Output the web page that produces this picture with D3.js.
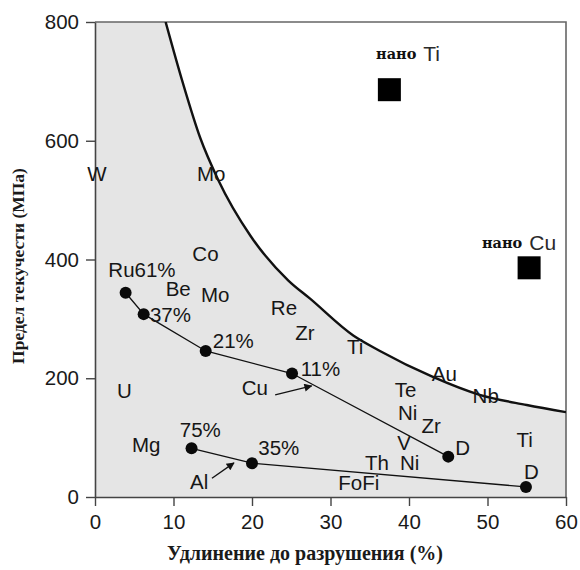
<!DOCTYPE html>
<html>
<head>
<meta charset="utf-8">
<script src="https://cdn.jsdelivr.net/npm/d3@7"></script>
<style>
  html, body { margin: 0; padding: 0; background: #fff; }
  svg { display: block; }
</style>
</head>
<body>
<div id="chart"></div>
<script>
// elongation to failure (%) vs yield strength (MPa)
const xTicks = [0, 10, 20, 30, 40, 50, 60];
const yTicks = [0, 200, 400, 600, 800];

// boundary of the conventional-metals region
const boundary = [
  [9.0, 800], [11.2, 697], [13.4, 605], [15.7, 534], [19.8, 440], [24.6, 365],
  [27.4, 334], [32.9, 272], [36.3, 246], [42.9, 203], [49.0, 172], [55.0, 155], [60.0, 143]
];

// two chains of points (with the connecting line)
const seriesA = [[3.9, 344], [6.2, 308], [14.1, 246], [25.1, 208], [45.0, 68]];
const seriesB = [[12.3, 82], [20.0, 57], [54.9, 17]];

// nanocrystalline samples
const nanoPoints = [
  { metal: 'Ti', x: 37.5, y: 686, lx: 35.8, ly: 738 },
  { metal: 'Cu', x: 55.3, y: 386, lx: 49.3, ly: 420 }
];

// element / percent labels: text, x (start), y (baseline)
const labels = [
  ['W', -1.0, 533], ['Mo', 13.0, 533], ['Co', 12.4, 398], ['Ru61%', 1.7, 370],
  ['Be', 9.0, 338], ['Mo', 13.5, 329], ['37%', 7.0, 295], ['Re', 22.4, 306],
  ['Zr', 25.5, 264], ['21%', 15.0, 251], ['Ti', 32.1, 241], ['11%', 26.2, 204],
  ['Cu', 18.7, 172], ['U', 2.8, 167], ['Te', 38.2, 169], ['Au', 42.9, 196],
  ['Nb', 48.1, 158], ['Ni', 38.6, 130], ['Zr', 41.6, 108], ['V', 38.5, 79],
  ['D', 45.9, 71], ['Ti', 53.7, 84], ['Ni', 38.85, 45], ['Th', 34.4, 45],
  ['D', 54.65, 30], ['FoFi', 31.0, 12], ['Mg', 4.7, 76], ['75%', 10.8, 101],
  ['35%', 20.8, 71], ['Al', 12.1, 13.5]
];

// arrows: from -> to
const arrows = [
  [[22.95, 172], [27.6, 187]],
  [[14.9, 31.5], [17.7, 57.5]]
];

const W = 580, H = 570;
const margin = { top: 22, right: 14, bottom: 73, left: 95 };
const width = W - margin.left - margin.right;
const height = H - margin.top - margin.bottom;

const svg = d3.select('#chart').append('svg')
  .attr('width', W)
  .attr('height', H);

const defs = svg.append('defs');
defs.append('clipPath').attr('id', 'plot-clip')
  .append('rect').attr('width', width).attr('height', height);
defs.append('marker')
  .attr('id', 'arrowhead')
  .attr('viewBox', '0 0 10 10')
  .attr('refX', 9).attr('refY', 5)
  .attr('markerWidth', 11).attr('markerHeight', 8)
  .attr('markerUnits', 'userSpaceOnUse')
  .attr('orient', 'auto')
  .append('path').attr('d', 'M0,0 L10,5 L0,10 Z').attr('fill', '#111');

const g = svg.append('g').attr('transform', `translate(${margin.left},${margin.top})`);

const x = d3.scaleLinear().domain([0, 60]).range([0, width]);
const y = d3.scaleLinear().domain([0, 800]).range([height, 0]);

// shaded region under the boundary
const curveLine = d3.line().x(d => x(d[0])).y(d => y(d[1])).curve(d3.curveMonotoneX);
const boundaryPath = curveLine(boundary);
g.append('path')
  .attr('clip-path', 'url(#plot-clip)')
  .attr('d', `M${x(0)},${y(800)}L${boundaryPath.slice(1)}L${x(60)},${y(0)}L${x(0)},${y(0)}Z`)
  .attr('fill', '#e5e5e5');

// frame (top + right)
g.append('path')
  .attr('d', `M0,0H${width}V${height}`)
  .attr('fill', 'none')
  .attr('stroke', '#666')
  .attr('stroke-width', 1.6);

// boundary curve
g.append('path')
  .attr('clip-path', 'url(#plot-clip)')
  .attr('d', boundaryPath)
  .attr('fill', 'none')
  .attr('stroke', '#111')
  .attr('stroke-width', 2.4);

// axes
const xAxis = g.append('g')
  .attr('transform', `translate(0,${height})`)
  .call(d3.axisBottom(x).tickValues(xTicks).tickSize(9).tickSizeOuter(0).tickPadding(8));
const yAxis = g.append('g')
  .call(d3.axisLeft(y).tickValues(yTicks).tickSize(9).tickSizeOuter(0).tickPadding(7));

[xAxis, yAxis].forEach(ax => {
  ax.select('.domain').attr('stroke', '#444').attr('stroke-width', 1.6);
  ax.selectAll('.tick line').attr('stroke', '#444').attr('stroke-width', 1.4);
  ax.selectAll('.tick text')
    .attr('fill', '#1a1a1a')
    .attr('font-family', '"Liberation Sans", Arial, sans-serif')
    .attr('font-size', '20.5px');
});

// connecting lines + dots
const line = d3.line().x(d => x(d[0])).y(d => y(d[1]));
[seriesA, seriesB].forEach(s => {
  g.append('path')
    .attr('d', line(s))
    .attr('fill', 'none')
    .attr('stroke', '#111')
    .attr('stroke-width', 1.3);
  g.selectAll(null).data(s).enter().append('circle')
    .attr('cx', d => x(d[0]))
    .attr('cy', d => y(d[1]))
    .attr('r', 6)
    .attr('fill', '#0a0a0a');
});

// arrows
arrows.forEach(a => {
  g.append('line')
    .attr('x1', x(a[0][0])).attr('y1', y(a[0][1]))
    .attr('x2', x(a[1][0])).attr('y2', y(a[1][1]))
    .attr('stroke', '#111')
    .attr('stroke-width', 1.3)
    .attr('marker-end', 'url(#arrowhead)');
});

// element labels
g.selectAll('.elem').data(labels).enter().append('text')
  .attr('class', 'elem')
  .attr('x', d => x(d[1]))
  .attr('y', d => y(d[2]))
  .attr('font-family', '"Liberation Sans", Arial, sans-serif')
  .attr('font-size', '20.5px')
  .attr('fill', '#161616')
  .text(d => d[0]);

// nano squares
const sq = 23;
g.selectAll('.nano').data(nanoPoints).enter().append('rect')
  .attr('class', 'nano')
  .attr('x', d => x(d.x) - sq / 2)
  .attr('y', d => y(d.y) - sq / 2)
  .attr('width', sq)
  .attr('height', sq)
  .attr('fill', '#000');

const nanoText = g.selectAll('.nano-label').data(nanoPoints).enter().append('text')
  .attr('class', 'nano-label')
  .attr('x', d => x(d.lx))
  .attr('y', d => y(d.ly));
nanoText.append('tspan')
  .attr('font-family', '"DejaVu Serif", "Liberation Serif", serif')
  .attr('font-weight', 'bold')
  .attr('font-size', '14.5px')
  .attr('fill', '#111')
  .text('нано');
nanoText.append('tspan')
  .attr('dx', 7)
  .attr('dy', 2)
  .attr('font-family', '"Liberation Sans", Arial, sans-serif')
  .attr('font-size', '21px')
  .attr('fill', '#2a2a2a')
  .text(d => d.metal);

// axis titles
svg.append('text')
  .attr('x', 305)
  .attr('y', 560)
  .attr('text-anchor', 'middle')
  .attr('font-family', '"Liberation Serif", "Times New Roman", serif')
  .attr('font-weight', 'bold')
  .attr('font-size', '20px')
  .attr('fill', '#1a1a1a')
  .text('Удлинение до разрушения (%)');

svg.append('text')
  .attr('transform', 'translate(24,266) rotate(-90)')
  .attr('text-anchor', 'middle')
  .attr('font-family', '"Liberation Serif", "Times New Roman", serif')
  .attr('font-weight', 'bold')
  .attr('font-size', '17.5px')
  .attr('fill', '#1a1a1a')
  .text('Предел текучести (МПа)');
</script>
</body>
</html>
